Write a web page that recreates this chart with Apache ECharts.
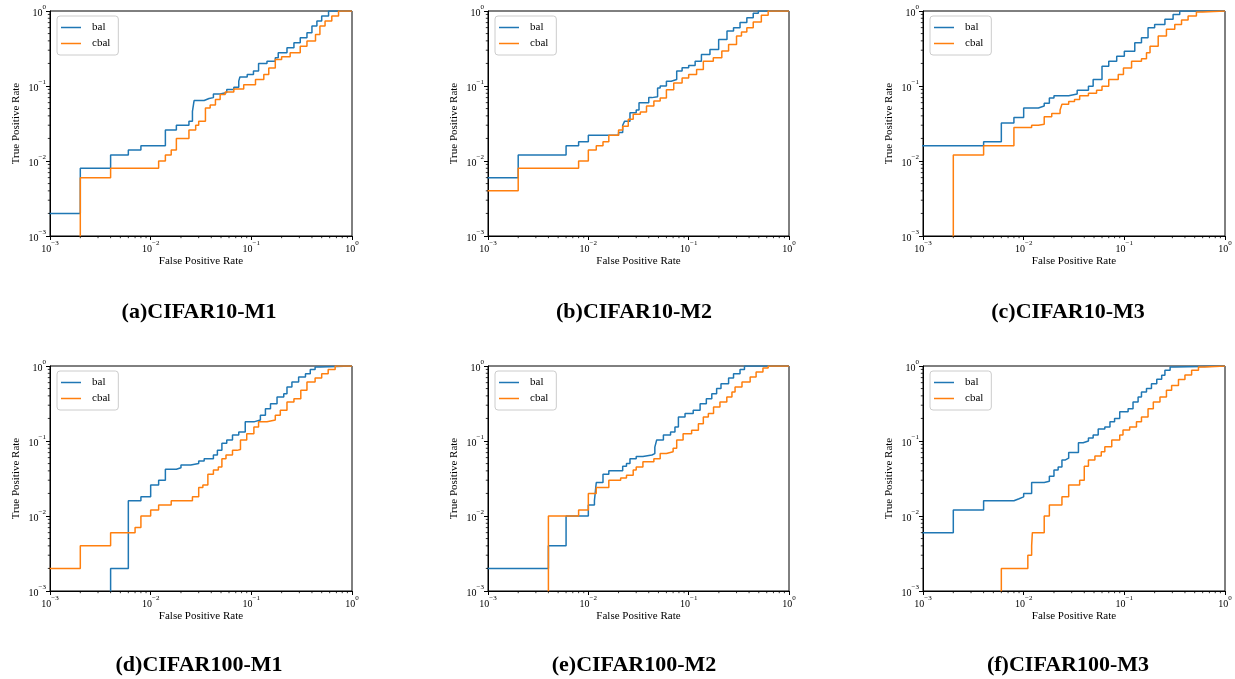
<!DOCTYPE html>
<html><head><meta charset="utf-8">
<script src="https://cdn.jsdelivr.net/npm/echarts@6/dist/echarts.min.js"></script>
<style>html,body{margin:0;padding:0;background:#fff}#c{width:1235px;height:679px}</style>
</head><body><div id="c"></div>
<script>
// ROC points [FPR, TPR]; each point: curve sits at TPR from this FPR until the next FPR (step 'end').
// Values below 1e-3 lie outside the plotted range (they stand for 0 on the log axes).
const a_bal = [[1e-4,0.002],[0.002,0.008],[0.004,0.012],[0.006,0.014],[0.008,0.016],[0.014,0.026],[0.018,0.030],[0.024,0.034],[0.026,0.046],[0.027,0.064],[0.034,0.068],[0.038,0.070],[0.042,0.078],[0.049,0.082],[0.057,0.090],[0.067,0.096],[0.075,0.116],[0.077,0.132],[0.091,0.142],[0.105,0.158],[0.118,0.200],[0.143,0.214],[0.173,0.238],[0.185,0.277],[0.226,0.323],[0.265,0.377],[0.306,0.440],[0.357,0.513],[0.40,0.63],[0.448,0.735],[0.50,0.857],[0.585,1.0],[1,1]];
const a_cbal = [[1e-4,1e-5],[0.002,0.006],[0.004,0.008],[0.012,0.010],[0.014,0.012],[0.016,0.014],[0.018,0.020],[0.024,0.026],[0.028,0.030],[0.030,0.034],[0.035,0.051],[0.039,0.056],[0.044,0.066],[0.049,0.077],[0.055,0.083],[0.067,0.091],[0.084,0.104],[0.110,0.122],[0.133,0.142],[0.149,0.174],[0.173,0.226],[0.200,0.245],[0.243,0.277],[0.306,0.340],[0.357,0.397],[0.434,0.487],[0.48,0.63],[0.54,0.735],[0.63,0.857],[0.735,1.0],[1,1]];
const b_bal = [[1e-4,0.006],[0.002,0.012],[0.006,0.016],[0.008,0.018],[0.010,0.022],[0.020,0.024],[0.022,0.030],[0.023,0.034],[0.026,0.044],[0.030,0.048],[0.032,0.060],[0.040,0.070],[0.043,0.072],[0.049,0.094],[0.052,0.100],[0.060,0.116],[0.067,0.122],[0.076,0.158],[0.086,0.175],[0.100,0.188],[0.116,0.214],[0.134,0.263],[0.163,0.307],[0.199,0.418],[0.241,0.540],[0.280,0.600],[0.325,0.700],[0.380,0.810],[0.440,0.930],[0.495,1.0],[1,1]];
const b_cbal = [[1e-4,0.004],[0.002,0.008],[0.008,0.010],[0.010,0.014],[0.012,0.016],[0.014,0.018],[0.016,0.022],[0.020,0.026],[0.022,0.029],[0.025,0.036],[0.028,0.042],[0.033,0.045],[0.038,0.054],[0.045,0.063],[0.052,0.069],[0.060,0.089],[0.071,0.110],[0.086,0.128],[0.100,0.142],[0.120,0.166],[0.140,0.214],[0.176,0.238],[0.214,0.292],[0.250,0.358],[0.300,0.463],[0.336,0.524],[0.38,0.600],[0.44,0.712],[0.53,0.875],[0.62,1.0],[1,1]];
const c_bal = [[1e-4,0.016],[0.004,0.018],[0.006,0.032],[0.008,0.038],[0.010,0.051],[0.014,0.054],[0.016,0.059],[0.018,0.069],[0.020,0.074],[0.028,0.078],[0.034,0.088],[0.044,0.099],[0.049,0.122],[0.060,0.184],[0.070,0.214],[0.084,0.250],[0.100,0.291],[0.127,0.377],[0.148,0.440],[0.172,0.600],[0.200,0.663],[0.253,0.774],[0.305,0.900],[0.355,1.0],[1,1]];
const c_cbal = [[1e-4,1e-5],[0.002,0.012],[0.004,0.016],[0.008,0.028],[0.012,0.030],[0.014,0.031],[0.016,0.039],[0.019,0.043],[0.023,0.048],[0.024,0.057],[0.028,0.062],[0.032,0.066],[0.036,0.074],[0.044,0.080],[0.053,0.088],[0.060,0.099],[0.070,0.122],[0.087,0.142],[0.098,0.174],[0.118,0.214],[0.148,0.231],[0.166,0.277],[0.18,0.340],[0.217,0.463],[0.262,0.570],[0.317,0.663],[0.370,0.757],[0.430,0.857],[0.520,0.970],[0.600,1.0],[1,1]];
const d_bal = [[1e-4,1e-5],[0.004,0.002],[0.006,0.016],[0.008,0.018],[0.010,0.026],[0.012,0.030],[0.014,0.042],[0.018,0.044],[0.020,0.048],[0.025,0.050],[0.030,0.054],[0.034,0.058],[0.042,0.065],[0.046,0.075],[0.051,0.093],[0.057,0.103],[0.065,0.120],[0.075,0.132],[0.087,0.180],[0.106,0.190],[0.123,0.220],[0.138,0.270],[0.155,0.315],[0.180,0.387],[0.210,0.428],[0.226,0.526],[0.253,0.613],[0.295,0.714],[0.345,0.790],[0.385,0.900],[0.430,0.970],[0.480,1.0],[1,1]];
const d_cbal = [[1e-4,0.002],[0.002,0.004],[0.004,0.006],[0.006,0.006],[0.007,0.007],[0.008,0.010],[0.010,0.012],[0.012,0.014],[0.016,0.016],[0.026,0.018],[0.030,0.024],[0.033,0.026],[0.037,0.036],[0.042,0.041],[0.047,0.045],[0.051,0.058],[0.056,0.065],[0.065,0.075],[0.072,0.077],[0.078,0.103],[0.090,0.125],[0.106,0.154],[0.118,0.180],[0.143,0.190],[0.173,0.220],[0.194,0.257],[0.226,0.331],[0.265,0.367],[0.310,0.474],[0.357,0.613],[0.430,0.692],[0.500,0.790],[0.580,0.900],[0.680,1.0],[1,1]];
const e_bal = [[1e-4,0.002],[0.004,0.004],[0.006,0.010],[0.010,0.014],[0.0115,0.016],[0.012,0.028],[0.014,0.036],[0.016,0.040],[0.022,0.046],[0.024,0.050],[0.026,0.058],[0.030,0.062],[0.035,0.065],[0.043,0.068],[0.046,0.083],[0.048,0.103],[0.056,0.120],[0.066,0.132],[0.073,0.154],[0.079,0.209],[0.092,0.232],[0.111,0.257],[0.130,0.315],[0.150,0.367],[0.170,0.428],[0.190,0.500],[0.210,0.580],[0.250,0.690],[0.280,0.790],[0.325,0.900],[0.360,1.0],[1,1]];
const e_cbal = [[1e-4,1e-5],[0.004,0.010],[0.008,0.012],[0.010,0.020],[0.012,0.024],[0.016,0.030],[0.021,0.032],[0.024,0.035],[0.028,0.041],[0.030,0.045],[0.035,0.053],[0.045,0.058],[0.052,0.068],[0.060,0.072],[0.070,0.080],[0.076,0.103],[0.088,0.125],[0.107,0.139],[0.125,0.170],[0.140,0.209],[0.157,0.232],[0.177,0.285],[0.205,0.331],[0.240,0.387],[0.270,0.450],[0.290,0.526],[0.340,0.613],[0.410,0.714],[0.470,0.832],[0.550,0.940],[0.620,1.0],[1,1]];
const f_bal = [[1e-4,0.006],[0.002,0.012],[0.004,0.016],[0.008,0.017],[0.009,0.018],[0.010,0.020],[0.012,0.028],[0.016,0.029],[0.018,0.034],[0.020,0.041],[0.022,0.045],[0.024,0.056],[0.026,0.059],[0.028,0.070],[0.035,0.095],[0.039,0.100],[0.044,0.110],[0.049,0.120],[0.055,0.144],[0.064,0.154],[0.072,0.180],[0.080,0.200],[0.090,0.245],[0.109,0.270],[0.122,0.330],[0.137,0.387],[0.148,0.450],[0.166,0.500],[0.186,0.580],[0.210,0.664],[0.235,0.750],[0.253,0.875],[0.285,0.970],[0.320,1.0],[1,1]];
const f_cbal = [[1e-4,1e-5],[0.006,0.002],[0.010,0.002],[0.011,0.003],[0.012,0.004],[0.0122,0.006],[0.016,0.010],[0.018,0.014],[0.024,0.018],[0.028,0.026],[0.036,0.030],[0.040,0.046],[0.044,0.056],[0.051,0.063],[0.059,0.072],[0.064,0.084],[0.075,0.103],[0.090,0.120],[0.097,0.140],[0.113,0.154],[0.132,0.180],[0.148,0.209],[0.172,0.270],[0.194,0.331],[0.226,0.387],[0.262,0.474],[0.295,0.550],[0.345,0.660],[0.400,0.760],[0.466,0.875],[0.545,0.970],[0.630,1.0],[1,1]];

const panelTitles = ['(a)CIFAR10-M1','(b)CIFAR10-M2','(c)CIFAR10-M3','(d)CIFAR100-M1','(e)CIFAR100-M2','(f)CIFAR100-M3'];
const seriesNames = ['bal','cbal'];
const panelData = [[a_bal,a_cbal],[b_bal,b_cbal],[c_bal,c_cbal],[d_bal,d_cbal],[e_bal,e_cbal],[f_bal,f_cbal]];
const axisMin = 0.001, axisMax = 1;
const minorTickValues = [0.002,0.003,0.004,0.005,0.006,0.007,0.008,0.009,0.02,0.03,0.04,0.05,0.06,0.07,0.08,0.09,0.2,0.3,0.4,0.5,0.6,0.7,0.8,0.9];
const xName = 'False Positive Rate', yName = 'True Positive Rate';

const colors = ['#1f77b4','#ff7f0e'];
const FONT = '"Liberation Serif","DejaVu Serif",serif';
const lefts = [50, 488, 923], widths = [302, 301, 302];
const tops = [11, 366], H = 225;
const titleX = [199, 634, 1068], titleY = [312, 665];

function fmt(v){
  const e = Math.round(Math.log10(v));
  return '{b|10}{s|' + (e < 0 ? '\u2212' + (-e) : String(e)) + '}';
}
const rich = {
  b:{fontSize:10, fontFamily:FONT, color:'#000', lineHeight:14, verticalAlign:'bottom'},
  s:{fontSize:7, fontFamily:FONT, color:'#000', lineHeight:8, verticalAlign:'top'}
};

const grid=[], xAxis=[], yAxis=[], series=[], legend=[], graphic=[];
for (let i=0;i<6;i++){
  const col=i%3, row=Math.floor(i/3);
  grid.push({left:lefts[col], top:tops[row], width:widths[col], height:H, show:true, borderColor:'#000', borderWidth:1, containLabel:false});
  const common = {
    type:'log', logBase:10, min:axisMin, max:axisMax, gridIndex:i,
    axisLine:{show:true, lineStyle:{color:'#000', width:1}},
    axisTick:{show:true, length:4, lineStyle:{color:'#000', width:1}},
    minorTick:{show:false},
    splitLine:{show:false}, minorSplitLine:{show:false},
    axisLabel:{formatter:fmt, rich:rich, margin:4},
    nameLocation:'middle',
    nameTextStyle:{fontFamily:FONT, fontSize:11, color:'#000'}
  };
  xAxis.push(Object.assign({}, common, {name:xName, nameGap:20}));
  yAxis.push(Object.assign({}, common, {name:yName, nameGap:28, nameRotate:90}));
  for (let k=0;k<2;k++){
    series.push({
      type:'line', name:seriesNames[k], xAxisIndex:i, yAxisIndex:i,
      data:panelData[i][k], step:'end', showSymbol:false, symbol:'none', clip:true,
      lineStyle:{color:colors[k], width:1.5}, itemStyle:{color:colors[k]}, z:3
    });
  }
  // minor ticks (2..9 x 10^k) placed through the axes' own log scales
  series.push({
    type:'custom', xAxisIndex:i, yAxisIndex:i, silent:true, clip:false, z:4,
    data:minorTickValues.map(v=>[v, v]),
    renderItem:function(params, api){
      const v = api.value(0);
      const px = api.coord([v, axisMin]);
      const py = api.coord([axisMin, v]);
      return {type:'group', children:[
        {type:'line', shape:{x1:px[0], y1:px[1], x2:px[0], y2:px[1]+2.2}, style:{stroke:'#000', lineWidth:0.8}},
        {type:'line', shape:{x1:py[0]-2.2, y1:py[1], x2:py[0], y2:py[1]}, style:{stroke:'#000', lineWidth:0.8}}
      ]};
    }
  });
  legend.push({
    left:lefts[col]+7, top:tops[row]+5, orient:'vertical',
    data:seriesNames.map((n,k)=>({name:n, icon:'rect', itemStyle:{color:colors[k]}})),
    itemWidth:20, itemHeight:1.5, itemGap:5,
    textStyle:{fontFamily:FONT, fontSize:11, color:'#000', padding:[0,0,0,6]},
    backgroundColor:'#fff', borderColor:'#ccc', borderWidth:1, borderRadius:3,
    padding:[6,8,6,4], selectedMode:false
  });
  graphic.push({type:'text', x:titleX[col], y:titleY[row],
    style:{text:panelTitles[i], font:'bold 22px ' + FONT, fill:'#000', textAlign:'center', textVerticalAlign:'middle'}});
}

const chart = echarts.init(document.getElementById('c'), null, {renderer:'canvas'});
chart.setOption({animation:false, backgroundColor:'#fff', grid, xAxis, yAxis, series, legend, graphic});
</script>
</body></html>
